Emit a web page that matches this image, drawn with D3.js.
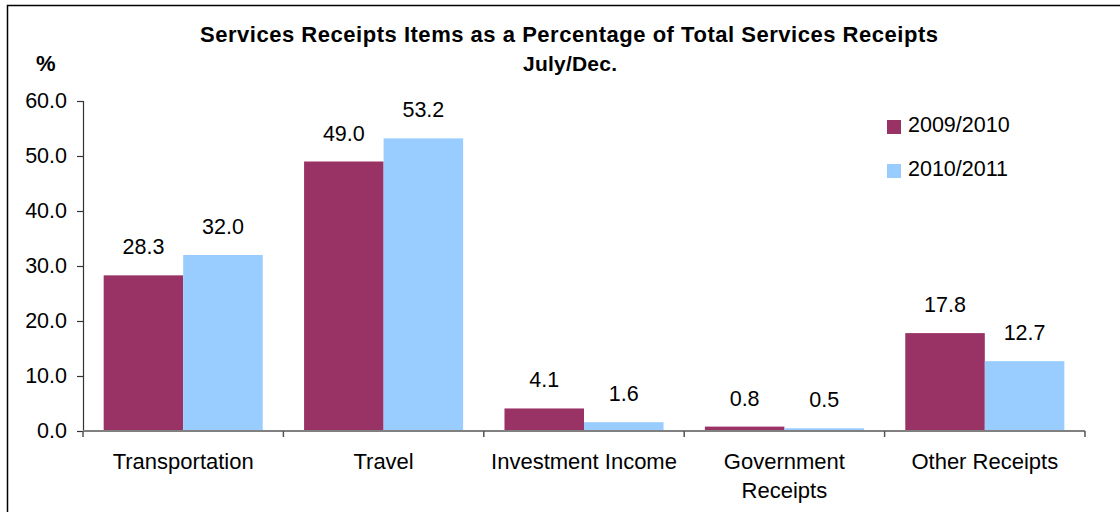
<!DOCTYPE html>
<html>
<head>
<meta charset="utf-8">
<script src="https://cdn.jsdelivr.net/npm/d3@7"></script>
<style>
  html, body { margin: 0; padding: 0; background: #fff; }
  svg { display: block; }
  text { font-family: "Liberation Sans", Arial, sans-serif; fill: #000; }
</style>
</head>
<body>
<svg id="chart" width="1120" height="512"></svg>
<script>
// Services receipts items, share of total services receipts (%), July/Dec.
const categories = ["Transportation", "Travel", "Investment Income", "Government Receipts", "Other Receipts"];
const categoryLines = [["Transportation"], ["Travel"], ["Investment Income"], ["Government", "Receipts"], ["Other Receipts"]];
const seriesNames = ["2009/2010", "2010/2011"];
const values2009 = [28.3, 49.0, 4.1, 0.8, 17.8];
const values2010 = [32.0, 53.2, 1.6, 0.5, 12.7];
const yTicks = [0, 10, 20, 30, 40, 50, 60];
const titleLines = ["Services Receipts Items as a Percentage of Total Services Receipts", "July/Dec."];

const colors = ["#993366", "#99CCFF"];
const seriesValues = [values2009, values2010];

const svg = d3.select("#chart");
const plot = { left: 83, right: 1085, top: 101, bottom: 431 };

// frame (top and left edges)
svg.append("path")
  .attr("d", `M7.5,512 V5.5 H1120`)
  .attr("fill", "none").attr("stroke", "#000").attr("stroke-width", 1.5);

// title
svg.append("text")
  .attr("x", 569).attr("y", 42)
  .attr("text-anchor", "middle")
  .attr("font-weight", "bold").attr("font-size", 22)
  .attr("textLength", 738).attr("lengthAdjust", "spacing")
  .text(titleLines[0]);
svg.append("text")
  .attr("x", 570).attr("y", 71)
  .attr("text-anchor", "middle")
  .attr("font-weight", "bold").attr("font-size", 21)
  .attr("textLength", 94).attr("lengthAdjust", "spacing")
  .text(titleLines[1]);

// unit label
svg.append("text")
  .attr("x", 36).attr("y", 71)
  .attr("font-weight", "bold").attr("font-size", 22)
  .text("%");

const x0 = d3.scaleBand().domain(categories).range([plot.left, plot.right]).padding(0);
const x1 = d3.scaleBand().domain(seriesNames).range([0, x0.bandwidth()])
  .paddingInner(0).paddingOuter(0.26);
const y = d3.scaleLinear().domain([0, 60]).range([plot.bottom, plot.top]);

// bars
const groups = svg.append("g").selectAll("g")
  .data(categories)
  .join("g")
  .attr("transform", d => `translate(${x0(d)},0)`);

groups.selectAll("rect")
  .data((d, i) => seriesNames.map((s, j) => ({ s, j, v: seriesValues[j][i] })))
  .join("rect")
  .attr("x", d => x1(d.s))
  .attr("y", d => y(d.v))
  .attr("width", x1.bandwidth())
  .attr("height", d => y(0) - y(d.v))
  .attr("fill", d => colors[d.j]);

// value labels
groups.selectAll("text.val")
  .data((d, i) => seriesNames.map((s, j) => ({ s, j, v: seriesValues[j][i] })))
  .join("text")
  .attr("class", "val")
  .attr("x", d => x1(d.s) + x1.bandwidth() / 2)
  .attr("y", d => y(d.v) - 21)
  .attr("text-anchor", "middle")
  .attr("font-size", 21.5)
  .text(d => d.v.toFixed(1));

// y axis
const yAxis = svg.append("g")
  .attr("transform", `translate(${plot.left},0)`)
  .call(d3.axisLeft(y).tickValues(yTicks).tickSize(6).tickPadding(10).tickFormat(d3.format(".1f")));
yAxis.select(".domain").attr("stroke", "#333").attr("stroke-width", 1.2);
yAxis.selectAll(".tick line").attr("stroke", "#333").attr("stroke-width", 1.2);
yAxis.selectAll(".tick text")
  .attr("font-size", 21.5)
  .attr("font-family", "'Liberation Sans', Arial, sans-serif")
  .attr("fill", "#000");

// x axis with tick marks at category boundaries
const xAxisG = svg.append("g").attr("transform", `translate(0,${plot.bottom})`);
const boundaries = categories.map(c => x0(c)).concat([x0(categories[categories.length - 1]) + x0.bandwidth()]);
xAxisG.append("line")
  .attr("x1", plot.left).attr("x2", plot.right)
  .attr("stroke", "#808080").attr("stroke-width", 2);
xAxisG.selectAll("line.tk")
  .data(boundaries)
  .join("line")
  .attr("class", "tk")
  .attr("x1", d => d).attr("x2", d => d)
  .attr("y1", 0).attr("y2", 6)
  .attr("stroke", "#555").attr("stroke-width", 1.5);

// category labels
const catLabels = svg.append("g").selectAll("text")
  .data(categories)
  .join("text")
  .attr("x", d => x0(d) + x0.bandwidth() / 2)
  .attr("y", 469)
  .attr("text-anchor", "middle")
  .attr("font-size", 22);
catLabels.each(function (d, i) {
  const t = d3.select(this);
  categoryLines[i].forEach((line, k) => {
    t.append("tspan")
      .attr("x", x0(d) + x0.bandwidth() / 2)
      .attr("dy", k === 0 ? 0 : 29)
      .text(line);
  });
});

// legend
const legend = svg.append("g").selectAll("g")
  .data(seriesNames)
  .join("g")
  .attr("transform", (d, i) => `translate(887,${120 + i * 44})`);
legend.append("rect")
  .attr("width", 14).attr("height", 14)
  .attr("fill", (d, i) => colors[i]);
legend.append("text")
  .attr("x", 21).attr("y", 12)
  .attr("font-size", 21.5)
  .text(d => d);
</script>
</body>
</html>
